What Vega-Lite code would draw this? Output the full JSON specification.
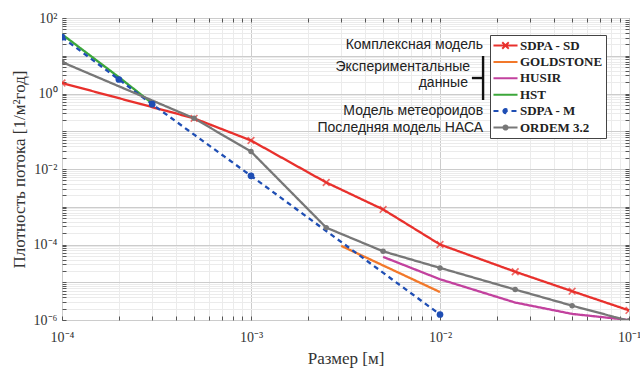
{
  "$schema": "https://vega.github.io/schema/vega-lite/v6.json",
  "width": 567,
  "height": 302,
  "autosize": {"type": "none"},
  "padding": {"left": 62, "top": 18, "right": 11, "bottom": 50},
  "background": "white",
  "config": {
    "view": {"stroke": "#555555", "strokeWidth": 1},
    "axis": {"labelFont": "Liberation Serif", "titleFont": "Liberation Serif", "labelColor": "#333333", "titleColor": "#333333"}
  },
  "data": {
    "values": [
      {"s": "SDPA - SD", "x": 0.0001, "y": 1.9},
      {"s": "SDPA - SD", "x": 0.0005, "y": 0.22},
      {"s": "SDPA - SD", "x": 0.001, "y": 0.057},
      {"s": "SDPA - SD", "x": 0.0025, "y": 0.0044},
      {"s": "SDPA - SD", "x": 0.005, "y": 0.00085},
      {"s": "SDPA - SD", "x": 0.01, "y": 0.0001},
      {"s": "SDPA - SD", "x": 0.025, "y": 0.000019},
      {"s": "SDPA - SD", "x": 0.05, "y": 0.0000058},
      {"s": "SDPA - SD", "x": 0.1, "y": 0.0000018},
      {"s": "GOLDSTONE", "x": 0.003, "y": 0.000092},
      {"s": "GOLDSTONE", "x": 0.01, "y": 0.0000055},
      {"s": "HUSIR", "x": 0.005, "y": 0.000047},
      {"s": "HUSIR", "x": 0.01, "y": 0.000012},
      {"s": "HUSIR", "x": 0.025, "y": 0.0000029},
      {"s": "HUSIR", "x": 0.05, "y": 0.00000145},
      {"s": "HUSIR", "x": 0.1, "y": 0.000001},
      {"s": "HST", "x": 0.0001, "y": 37},
      {"s": "HST", "x": 0.0002, "y": 2.7},
      {"s": "HST", "x": 0.0003, "y": 0.55},
      {"s": "SDPA - M", "x": 0.0001, "y": 31},
      {"s": "SDPA - M", "x": 0.0002, "y": 2.35},
      {"s": "SDPA - M", "x": 0.0003, "y": 0.52},
      {"s": "SDPA - M", "x": 0.001, "y": 0.0066},
      {"s": "SDPA - M", "x": 0.01, "y": 0.0000014},
      {"s": "ORDEM 3.2", "x": 0.0001, "y": 6.8},
      {"s": "ORDEM 3.2", "x": 0.0005, "y": 0.22},
      {"s": "ORDEM 3.2", "x": 0.001, "y": 0.029},
      {"s": "ORDEM 3.2", "x": 0.0025, "y": 0.00028},
      {"s": "ORDEM 3.2", "x": 0.005, "y": 0.000066},
      {"s": "ORDEM 3.2", "x": 0.01, "y": 0.000024},
      {"s": "ORDEM 3.2", "x": 0.025, "y": 0.0000064},
      {"s": "ORDEM 3.2", "x": 0.05, "y": 0.0000024},
      {"s": "ORDEM 3.2", "x": 0.1, "y": 0.00000095}
    ]
  },
  "resolve": {"axis": {"x": "independent", "y": "independent"}},
  "layer": [
    {
      "mark": {"type": "line", "strokeWidth": 2.3, "clip": true},
      "encoding": {
        "x": {
          "field": "x", "type": "quantitative",
          "scale": {"type": "log", "domain": [0.0001, 0.1], "nice": false},
          "axis": {
            "orient": "bottom", "labels": false, "title": null, "domain": false,
            "values": [0.0001,0.0002,0.0003,0.0004,0.0005,0.0006,0.0007,0.0008,0.0009,0.001,0.002,0.003,0.004,0.005,0.006,0.007,0.008,0.009,0.01,0.02,0.03,0.04,0.05,0.06,0.07,0.08,0.09,0.1],
            "ticks": true, "tickSize": -4, "tickColor": "#555555",
            "grid": true,
            "gridColor": {"condition": {"test": "abs(log(datum.value)/LN10 - round(log(datum.value)/LN10)) < 0.001", "value": "#cccccc"}, "value": "#ebebeb"}
          }
        },
        "y": {
          "field": "y", "type": "quantitative",
          "scale": {"type": "log", "domain": [0.000001, 100], "nice": false},
          "axis": {
            "orient": "left", "labels": false, "title": null, "domain": false,
            "values": [0.000001,0.000002,0.000003,0.000004,0.000005,0.000006,0.000007,0.000008,0.000009,0.00001,0.00002,0.00003,0.00004,0.00005,0.00006,0.00007,0.00008,0.00009,0.0001,0.0002,0.0003,0.0004,0.0005,0.0006,0.0007,0.0008,0.0009,0.001,0.002,0.003,0.004,0.005,0.006,0.007,0.008,0.009,0.01,0.02,0.03,0.04,0.05,0.06,0.07,0.08,0.09,0.1,0.2,0.3,0.4,0.5,0.6,0.7,0.8,0.9,1,2,3,4,5,6,7,8,9,10,20,30,40,50,60,70,80,90,100],
            "ticks": true, "tickSize": -4, "tickColor": "#555555",
            "grid": true,
            "gridColor": {"condition": {"test": "abs(log(datum.value)/LN10 - round(log(datum.value)/LN10)) < 0.001", "value": "#cccccc"}, "value": "#ebebeb"}
          }
        },
        "color": {
          "field": "s", "type": "nominal",
          "scale": {"domain": ["SDPA - SD", "GOLDSTONE", "HUSIR", "HST", "SDPA - M", "ORDEM 3.2"], "range": ["#e8302c", "#f2782a", "#c2419e", "#3ca73a", "#1f4eb4", "#777777"]},
          "legend": {
            "orient": "none", "legendX": 428, "legendY": 17, "title": null, "direction": "vertical",
            "labelFont": "Liberation Serif", "labelFontSize": 13, "labelFontWeight": "bold", "labelColor": "#222222",
            "symbolType": "stroke", "symbolSize": 169, "symbolStrokeWidth": 2, "symbolOffset": 5, "labelOffset": 7,
            "rowPadding": 1.4, "padding": 3, "strokeColor": "#444444", "fillColor": "white", "labelLimit": 200,
            "encode": {"symbols": {"update": {
              "shape": {"signal": "datum.value === 'SDPA - SD' ? 'M-1.85,0H1.85M-0.5,-0.5L0.5,0.5M-0.5,0.5L0.5,-0.5' : (datum.value === 'SDPA - M' || datum.value === 'ORDEM 3.2') ? 'M-1.85,0H1.85M-0.32,0A0.32,0.32 0 1,1 0.32,0A0.32,0.32 0 1,1 -0.32,0Z' : 'M-1.85,0H1.85'"},
              "fill": {"signal": "scale('color', datum.value)"}
            }}}
          }
        },
        "strokeDash": {
          "field": "s", "type": "nominal",
          "scale": {"domain": ["SDPA - SD", "GOLDSTONE", "HUSIR", "HST", "SDPA - M", "ORDEM 3.2"], "range": [[1,0],[1,0],[1,0],[1,0],[5,4],[1,0]]},
          "legend": {
            "orient": "none", "legendX": 428, "legendY": 17, "title": null, "direction": "vertical",
            "labelFont": "Liberation Serif", "labelFontSize": 13, "labelFontWeight": "bold", "labelColor": "#222222",
            "symbolType": "stroke", "symbolSize": 169, "symbolStrokeWidth": 2, "symbolOffset": 5, "labelOffset": 7,
            "rowPadding": 1.4, "padding": 3, "strokeColor": "#444444", "fillColor": "white", "labelLimit": 200
          }
        }
      }
    },
    {
      "transform": [{"filter": "datum.s === 'SDPA - SD'"}],
      "mark": {"type": "point", "shape": "M-1,-1L1,1M-1,1L1,-1", "filled": false, "size": 45, "strokeWidth": 1.6, "color": "#e8302c", "clip": true},
      "encoding": {
        "x": {
          "field": "x", "type": "quantitative",
          "axis": {
            "orient": "bottom", "values": [0.0001, 0.001, 0.01, 0.1], "grid": false, "ticks": false, "domain": false,
            "labelExpr": "'10' + replace(replace(replace(replace(replace(replace(replace('' + round(log(datum.value)/LN10), '-', '⁻'), '0', '⁰'), '1', '¹'), '2', '²'), '3', '³'), '4', '⁴'), '6', '⁶')",
            "labelFontSize": 14, "labelPadding": 10, "labelFlush": false,
            "title": "Размер [м]", "titleFontSize": 17, "titleFontWeight": "normal", "titlePadding": 6
          }
        },
        "y": {
          "field": "y", "type": "quantitative",
          "axis": {
            "orient": "left", "values": [0.000001, 0.00001, 0.0001, 0.001, 0.01, 0.1, 1, 10, 100], "grid": false, "ticks": false, "domain": false,
            "labelExpr": "(round(log(datum.value)/LN10) % 2 !== 0) ? '' : '10' + replace(replace(replace(replace(replace(replace(replace('' + round(log(datum.value)/LN10), '-', '⁻'), '0', '⁰'), '1', '¹'), '2', '²'), '3', '³'), '4', '⁴'), '6', '⁶')",
            "labelFontSize": 14, "labelPadding": 5,
            "title": "Плотность потока [1/м²год]", "titleFontSize": 17, "titleFontWeight": "normal", "titlePadding": 5
          }
        }
      }
    },
    {
      "transform": [{"filter": "datum.s === 'SDPA - M' || datum.s === 'ORDEM 3.2'"}],
      "mark": {"type": "point", "shape": "circle", "filled": true, "opacity": 1, "clip": true},
      "encoding": {
        "x": {"field": "x", "type": "quantitative", "axis": null},
        "y": {"field": "y", "type": "quantitative", "axis": null},
        "color": {"field": "s", "type": "nominal"},
        "size": {"field": "s", "type": "nominal", "scale": {"domain": ["SDPA - M", "ORDEM 3.2"], "range": [45, 30]}, "legend": null}
      }
    },
    {
      "data": {"values": [
        {"t": "Комплексная модель", "x": 0.0169, "y": 19.3},
        {"t": "Экспериментальные", "x": 0.01442, "y": 5.04},
        {"t": "данные", "x": 0.01406, "y": 1.9},
        {"t": "Модель метеороидов", "x": 0.0169, "y": 0.34},
        {"t": "Последняя модель НАСА", "x": 0.0169, "y": 0.125}
      ]},
      "mark": {"type": "text", "align": "right", "baseline": "middle", "font": "Liberation Sans", "fontSize": 14, "color": "#222222"},
      "encoding": {
        "x": {
          "field": "x", "type": "quantitative",
          "axis": {
            "orient": "top", "labels": false, "title": null, "domain": false, "grid": false,
            "values": [0.0002,0.0003,0.0004,0.0005,0.0006,0.0007,0.0008,0.0009,0.001,0.002,0.003,0.004,0.005,0.006,0.007,0.008,0.009,0.01,0.02,0.03,0.04,0.05,0.06,0.07,0.08,0.09],
            "ticks": true, "tickSize": -4, "tickColor": "#555555"
          }
        },
        "y": {"field": "y", "type": "quantitative", "axis": null},
        "text": {"field": "t"}
      }
    },
    {
      "data": {"values": [
        {"x": 0.0169, "x2": 0.0169, "y": 9.85, "y2": 0.673},
        {"x": 0.01475, "x2": 0.0169, "y": 2.57, "y2": 2.57}
      ]},
      "mark": {"type": "rule", "color": "#111111", "strokeWidth": 2.4},
      "encoding": {
        "x": {"field": "x", "type": "quantitative", "axis": null},
        "x2": {"field": "x2"},
        "y": {
          "field": "y", "type": "quantitative",
          "axis": {
            "orient": "right", "labels": false, "title": null, "domain": false, "grid": false,
            "values": [0.000002,0.000003,0.000004,0.000005,0.000006,0.000007,0.000008,0.000009,0.00001,0.00002,0.00003,0.00004,0.00005,0.00006,0.00007,0.00008,0.00009,0.0001,0.0002,0.0003,0.0004,0.0005,0.0006,0.0007,0.0008,0.0009,0.001,0.002,0.003,0.004,0.005,0.006,0.007,0.008,0.009,0.01,0.02,0.03,0.04,0.05,0.06,0.07,0.08,0.09,0.1,0.2,0.3,0.4,0.5,0.6,0.7,0.8,0.9,1,2,3,4,5,6,7,8,9,10,20,30,40,50,60,70,80,90],
            "ticks": true, "tickSize": -4, "tickColor": "#555555"
          }
        },
        "y2": {"field": "y2"}
      }
    }
  ]
}
